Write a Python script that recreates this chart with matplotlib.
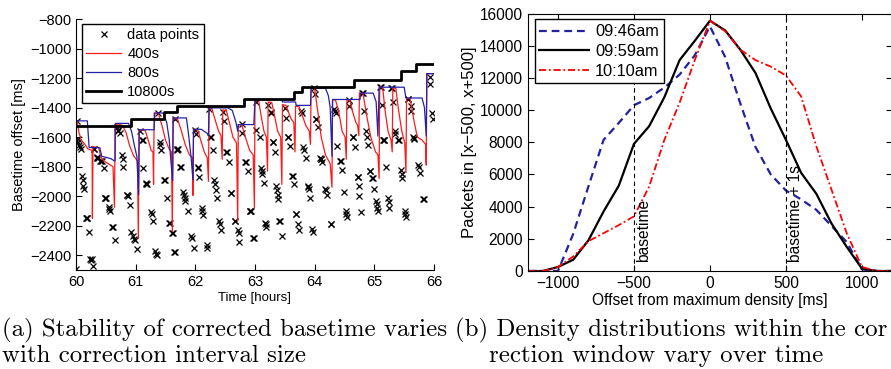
import matplotlib
matplotlib.use('Agg')
import matplotlib.pyplot as plt

plt.rcParams['font.family'] = ['Liberation Sans', 'DejaVu Sans']

# ---------------- (a) data ----------------
black_x = [60.00, 60.93, 61.47, 61.69, 62.82, 63.65, 63.79, 64.66, 65.44, 65.69, 66.00]
black_y = [-1525, -1480, -1432, -1390, -1340, -1295, -1258, -1215, -1154, -1103, -1103]

red_x = [60.00, 60.00, 60.02, 60.05, 60.09, 60.15, 60.20, 60.27, 60.275,
         60.285, 60.38, 60.42, 60.50, 60.62, 60.645,
         60.655, 60.78, 60.84, 60.90, 60.97, 61.03, 61.045,
         61.055, 61.16, 61.21, 61.26, 61.29, 61.30,
         61.31, 61.38, 61.44, 61.50, 61.56, 61.60, 61.615,
         61.625, 61.70, 61.76, 61.83, 61.90, 61.95, 61.96,
         61.97, 62.04, 62.09, 62.15, 62.20, 62.22,
         62.23, 62.28, 62.33, 62.39, 62.43, 62.45,
         62.46, 62.52, 62.57, 62.63, 62.69, 62.71,
         62.72, 62.78, 62.84, 62.91, 62.97, 62.99,
         63.00, 63.06, 63.10, 63.15, 63.19, 63.21,
         63.22, 63.28, 63.32, 63.38, 63.43, 63.45,
         63.46, 63.52, 63.56, 63.61, 63.65, 63.67,
         63.68, 63.74, 63.79, 63.85, 63.91, 63.93,
         63.94, 64.00, 64.05, 64.11, 64.18, 64.26, 64.29,
         64.30, 64.35, 64.40, 64.46, 64.51, 64.53,
         64.54, 64.59, 64.63, 64.69, 64.72, 64.74,
         64.75, 64.81, 64.87, 64.94, 65.02, 65.06, 65.08,
         65.09, 65.14, 65.18, 65.23, 65.28, 65.30,
         65.31, 65.36, 65.40, 65.46, 65.51, 65.53,
         65.54, 65.60, 65.66, 65.72, 65.80, 65.86, 65.87,
         65.88, 66.00]
red_y = [-1860, -1480, -1490, -1570, -1620, -1650, -1680, -1690, -2150,
         -1665, -1670, -1740, -1770, -1800, -2075,
         -1515, -1520, -1570, -1660, -1730, -1760, -2285,
         -1552, -1555, -1620, -1690, -1700, -1920,
         -1437, -1440, -1520, -1620, -1680, -1700, -2240,
         -1470, -1475, -1550, -1650, -1720, -1740, -1995,
         -1547, -1550, -1620, -1700, -1740, -1900,
         -1402, -1410, -1480, -1560, -1590, -1750,
         -1415, -1420, -1500, -1600, -1640, -2170,
         -1515, -1520, -1600, -1690, -1720, -2080,
         -1347, -1350, -1450, -1560, -1600, -1830,
         -1362, -1365, -1440, -1560, -1600, -1920,
         -1380, -1385, -1430, -1480, -1500, -1700,
         -1390, -1395, -1450, -1520, -1560, -1650,
         -1268, -1272, -1420, -1600, -1720, -1780, -1940,
         -1345, -1350, -1420, -1560, -1600, -1750,
         -1345, -1350, -1420, -1500, -1520, -1590,
         -1300, -1305, -1450, -1600, -1700, -1720, -1880,
         -1260, -1265, -1420, -1560, -1620, -1700,
         -1265, -1270, -1400, -1560, -1640, -1840,
         -1335, -1340, -1480, -1600, -1620, -1650, -1790,
         -1170, -1170]

blue_x = [60.00, 60.00, 60.19, 60.22, 60.40, 60.43, 60.58, 60.64, 60.655,
          60.66, 60.88, 60.93, 60.98, 61.02, 61.05,
          61.06, 61.31, 61.32, 61.46, 61.52, 61.56, 61.59, 61.62,
          61.63, 61.85, 61.88, 61.93, 61.96,
          61.97, 62.10, 62.20, 62.22,
          62.23, 62.55, 62.62, 62.68, 62.71,
          62.72, 62.98, 63.00, 63.45, 63.46, 63.68, 63.69, 63.93,
          63.94, 64.18, 64.23, 64.26, 64.29,
          64.30, 64.76, 64.77, 64.98, 65.03, 65.06,
          65.08, 65.50, 65.53, 65.80, 65.84, 65.87,
          65.88, 66.00]
blue_y = [-1700, -1490, -1490, -1670, -1672, -1730, -1745, -1760, -1760,
          -1507, -1507, -1560, -1660, -1730, -1990,
          -1550, -1550, -1437, -1437, -1500, -1610, -1760, -1895,
          -1470, -1470, -1560, -1740, -1890,
          -1547, -1547, -1575, -1590,
          -1402, -1402, -1420, -1500, -1560,
          -1515, -1515, -1347, -1347, -1362, -1362, -1385, -1385,
          -1268, -1268, -1320, -1400, -1730,
          -1345, -1345, -1302, -1302, -1360, -1593,
          -1262, -1262, -1335, -1335, -1400, -1593,
          -1170, -1170]

pt_x = [60.00, 60.02, 60.03, 60.04, 60.05, 60.07, 60.08,
        60.10, 60.11, 60.12, 60.13, 60.17, 60.18, 60.19, 60.22,
        60.24, 60.25, 60.26, 60.29, 60.30, 60.31,
        60.35, 60.36, 60.37, 60.41, 60.42, 60.43, 60.47,
        60.48, 60.49, 60.50, 60.55, 60.56, 60.57, 60.61, 60.62, 60.65,
        60.68, 60.70, 60.71, 60.73, 60.77, 60.78, 60.79,
        60.85, 60.86, 60.87, 60.90, 60.93, 60.95, 60.97, 60.99, 61.02,
        61.07, 61.11, 61.12, 61.13, 61.17, 61.18, 61.19,
        61.26, 61.27, 61.29, 61.33, 61.34, 61.35,
        61.37, 61.40, 61.41, 61.43, 61.48, 61.49, 61.52,
        61.56, 61.57, 61.61, 61.62, 61.65, 61.66,
        61.66, 61.69, 61.70, 61.71, 61.75, 61.76,
        61.80, 61.81, 61.82, 61.83, 61.87, 61.93, 61.94, 61.97,
        61.99, 62.01, 62.04, 62.05, 62.06, 62.11, 62.12, 62.13, 62.19, 62.20,
        62.23, 62.25, 62.26, 62.29, 62.31, 62.33, 62.34, 62.36,
        62.40, 62.42, 62.43, 62.47, 62.48, 62.52, 62.53, 62.56,
        62.59, 62.60, 62.66, 62.67, 62.72, 62.73, 62.74,
        62.78, 62.79, 62.84, 62.85, 62.88, 62.91, 62.92, 62.93, 62.97, 62.98,
        63.01, 63.02, 63.08, 63.10, 63.11, 63.12, 63.15, 63.17, 63.18, 63.19,
        63.22, 63.26, 63.27, 63.30, 63.31, 63.33,
        63.36, 63.37, 63.38, 63.39, 63.41, 63.42, 63.45,
        63.50, 63.52, 63.55, 63.56, 63.59, 63.62, 63.63, 63.65,
        63.68, 63.69, 63.72, 63.73, 63.77, 63.79, 63.80, 63.82, 63.85,
        63.88, 63.89, 63.90, 63.92, 63.96, 63.97,
        63.99, 64.00, 64.02, 64.03, 64.05, 64.09, 64.10, 64.11, 64.13,
        64.18, 64.19, 64.20, 64.27, 64.28,
        64.33, 64.34, 64.35, 64.37, 64.43, 64.44, 64.46, 64.49,
        64.52, 64.53, 64.54, 64.57, 64.58, 64.64, 64.65, 64.67,
        64.72, 64.73, 64.74, 64.75, 64.77, 64.80, 64.81, 64.83,
        64.86, 64.88, 64.89, 64.92, 64.93, 64.96, 64.97, 65.00,
        65.03, 65.04, 65.05, 65.06, 65.10, 65.11, 65.13,
        65.15, 65.16, 65.17, 65.20, 65.23, 65.24, 65.25,
        65.28, 65.29, 65.32, 65.34, 65.35, 65.40, 65.41,
        65.45, 65.46, 65.47, 65.51, 65.52, 65.53,
        65.56, 65.57, 65.61, 65.62, 65.65, 65.66, 65.67,
        65.74, 65.75, 65.76, 65.82, 65.83,
        65.93, 65.94, 65.97, 65.98]
pt_y = [-2490, -1490, -1610, -1630, -1650, -1670, -1680,
        -1860, -1890, -1930, -1950, -2150, -2150, -2150, -2240,
        -2425, -2430, -2425, -2475, -1680, -1680,
        -1735, -1740, -1740, -1760, -1760, -1765, -1810,
        -2010, -2010, -2010, -2070, -2090, -2100, -2210, -2210, -2300,
        -1530, -1550, -1560, -1570, -1720, -1750, -1800,
        -1990, -1990, -2000, -2060, -2240, -2270, -2290, -2300, -2360,
        -1560, -1620, -1620, -1810, -1910, -1915, -1920,
        -2110, -2120, -2170, -2370, -2390, -2400,
        -1440, -1630, -1650, -1690, -1890, -1890, -2010,
        -2180, -2180, -2250, -2250, -2380, -2380,
        -1480, -1680, -1690, -1680, -1800, -1800,
        -1970, -1990, -2010, -2030, -2100, -2270, -2280, -2350,
        -1550, -1580, -1800, -1810, -1870, -2080, -2100, -2130, -2330, -2350,
        -1410, -1600, -1600, -1690, -1890, -1920, -1960, -2010,
        -2170, -2190, -2230, -1430, -1490, -1700, -1700, -1770,
        -1980, -1980, -2170, -2170, -2230, -2250, -2310,
        -1510, -1570, -1770, -1770, -1830, -2100, -2100, -2100, -2280, -2280,
        -1360, -1550, -1600, -1810, -1830, -1850, -1910, -2180, -2190, -2210,
        -1380, -1430, -1440, -1630, -1630, -1700,
        -1930, -1960, -1990, -2020, -2170, -2170, -2270,
        -1400, -1470, -1600, -1600, -1660, -1860, -1860, -1920,
        -2120, -2120, -2190, -2230, -1420, -1440, -1670, -1690, -1740,
        -1930, -1935, -1950, -2010, -2220, -2240,
        -1270, -1310, -1480, -1480, -1530, -1740, -1745, -1750, -1770,
        -1950, -1960, -1990, -2190, -2190,
        -1410, -1420, -1440, -1660, -1760, -1760, -1820, -1970,
        -2100, -2120, -2140, -1350, -1390, -1600, -1600, -1670,
        -1870, -1870, -1930, -2000, -2110, -1300, -1300, -1420,
        -1560, -1600, -1650, -1830, -1830, -1880, -1880, -1950,
        -2030, -2050, -2080, -2100, -1260, -1260, -1380,
        -1620, -1620, -1620, -1800, -2010, -2040, -2080,
        -1270, -1270, -1360, -1560, -1580, -1620, -1620,
        -1820, -1850, -1880, -2100, -2120, -2140,
        -1340, -1340, -1390, -1420, -1600, -1605, -1610,
        -1790, -1800, -1840, -2020, -2020,
        -1190, -1240, -1440, -1480]

a_xticks = [60, 61, 62, 63, 64, 65, 66]
a_yticks = [-2400, -2200, -2000, -1800, -1600, -1400, -1200, -1000, -800]

# ---------------- (b) data ----------------
offsets = [-1200, -1100, -1000, -900, -800, -700, -600, -500, -400, -300, -200, -100,
           0, 100, 200, 300, 400, 500, 600, 700, 800, 900, 1000, 1100, 1200]
d_0946 = [0, 0, 0, 2300, 5250, 8150, 9200, 10300, 10750, 11400, 12200, 13400,
          15200, 13300, 10400, 7700, 6000, 5000, 4450, 3800, 2800, 1800, 100, 0, 0]
d_0959 = [0, 0, 250, 700, 1900, 3700, 5300, 7900, 9000, 10800, 13100, 14300,
          15550, 14950, 13750, 12300, 10100, 8150, 6100, 4800, 2950, 1500, 150, 0, 0]
d_1010 = [0, 0, 250, 900, 1850, 2350, 2850, 3400, 5250, 8150, 10450, 13100,
          15550, 14900, 13750, 13100, 12700, 12150, 10850, 7750, 5050, 2350, 250, 0, 0]
b_xticks = [-1000, -500, 0, 500, 1000]
b_yticks = [0, 2000, 4000, 6000, 8000, 10000, 12000, 14000, 16000]
marker_lines = [-500, 500]
marker_labels = ['basetime', 'basetime + 1s']

FS = 10.5
FSB = 11.2
fig = plt.figure(figsize=(8.91, 3.69), dpi=100)

# ---------------- panel (a) ----------------
ax1 = fig.add_axes([76 / 891, 1 - 270 / 369, (434 - 76) / 891, (270 - 19) / 369])
ax1.plot(pt_x, pt_y, linestyle='none', marker='x', color='black', markersize=4.2,
         markeredgewidth=0.9, label='data points')
ax1.plot(red_x, red_y, color='#ff1a1a', linewidth=0.9, label='400s')
ax1.plot(blue_x, blue_y, color='#2222aa', linewidth=0.9, label='800s')
ax1.plot(black_x, black_y, color='black', linewidth=2.0, drawstyle='steps-post', label='10800s')
ax1.set_xlim(60, 66)
ax1.set_ylim(-2500, -800)
ax1.set_xticks(a_xticks)
ax1.set_yticks(a_yticks)
ax1.spines['top'].set_visible(False)
ax1.spines['right'].set_visible(False)
ax1.tick_params(direction='in', length=4, width=0.8, labelsize=FS)
ax1.set_xlabel('Time [hours]', fontsize=9.5, labelpad=2.5)
ax1.set_ylabel('Basetime offset [ms]', fontsize=10.5, labelpad=3)
leg1 = ax1.legend(loc='upper left', bbox_to_anchor=(0.017, 0.98), borderaxespad=0,
                  fontsize=FS, fancybox=False, edgecolor='black', framealpha=1,
                  handlelength=2.4, handletextpad=0.4, borderpad=0.3, labelspacing=0.33)
leg1.get_frame().set_linewidth(1.0)

# ---------------- panel (b) ----------------
ax2 = fig.add_axes([527.6 / 891, 1 - 271 / 369, (892.3 - 527.6) / 891, (271 - 13.5) / 369])
ax2.plot(offsets, d_0946, color='#22229a', linewidth=1.6, linestyle=(0, (3.5, 2.2)), label='09:46am')
ax2.plot(offsets, d_0959, color='black', linewidth=1.6, label='09:59am')
ax2.plot(offsets, d_1010, color='#ff0000', linewidth=1.3, linestyle=(0, (4, 1.5, 1, 1.5)), label='10:10am')
for xv, txt in zip(marker_lines, marker_labels):
    ax2.axvline(xv, color='black', linestyle=(0, (4, 3)), linewidth=0.8)
    ax2.text(xv + 15, 550, txt, rotation=90, ha='left', va='bottom', fontsize=FSB)
ax2.set_xlim(-1200, 1200)
ax2.set_ylim(0, 16000)
ax2.set_xticks(b_xticks)
ax2.set_yticks(b_yticks)
ax2.tick_params(direction='in', length=4, width=0.8, labelsize=FSB, top=True, right=True)
ax2.set_xlabel('Offset from maximum density [ms]', fontsize=11.2, labelpad=1.5)
ax2.set_ylabel('Packets in [x\u2212500, x+500]', fontsize=12, labelpad=2)
leg2 = ax2.legend(loc='upper left', bbox_to_anchor=(0.019, 0.977), borderaxespad=0,
                  fontsize=11.8, fancybox=False, edgecolor='black', framealpha=1,
                  handlelength=3.0, handletextpad=0.4, borderpad=0.3, labelspacing=0.28)
leg2.get_frame().set_linewidth(1.0)

# ---------------- captions ----------------
cap = dict(fontsize=17.9, family='cmr10', va='baseline', ha='left')
fig.text(2 / 891, 1 - 336.7 / 369, '(a) Stability of corrected basetime varies', **cap)
fig.text(2 / 891, 1 - 361.7 / 369, 'with correction interval size', **cap)
fig.text(455.5 / 891, 1 - 336.7 / 369, '(b) Density distributions within the cor', **cap)
fig.text(489 / 891, 1 - 361.7 / 369, 'rection window vary over time', **cap)

fig.savefig('out.png', dpi=100)
